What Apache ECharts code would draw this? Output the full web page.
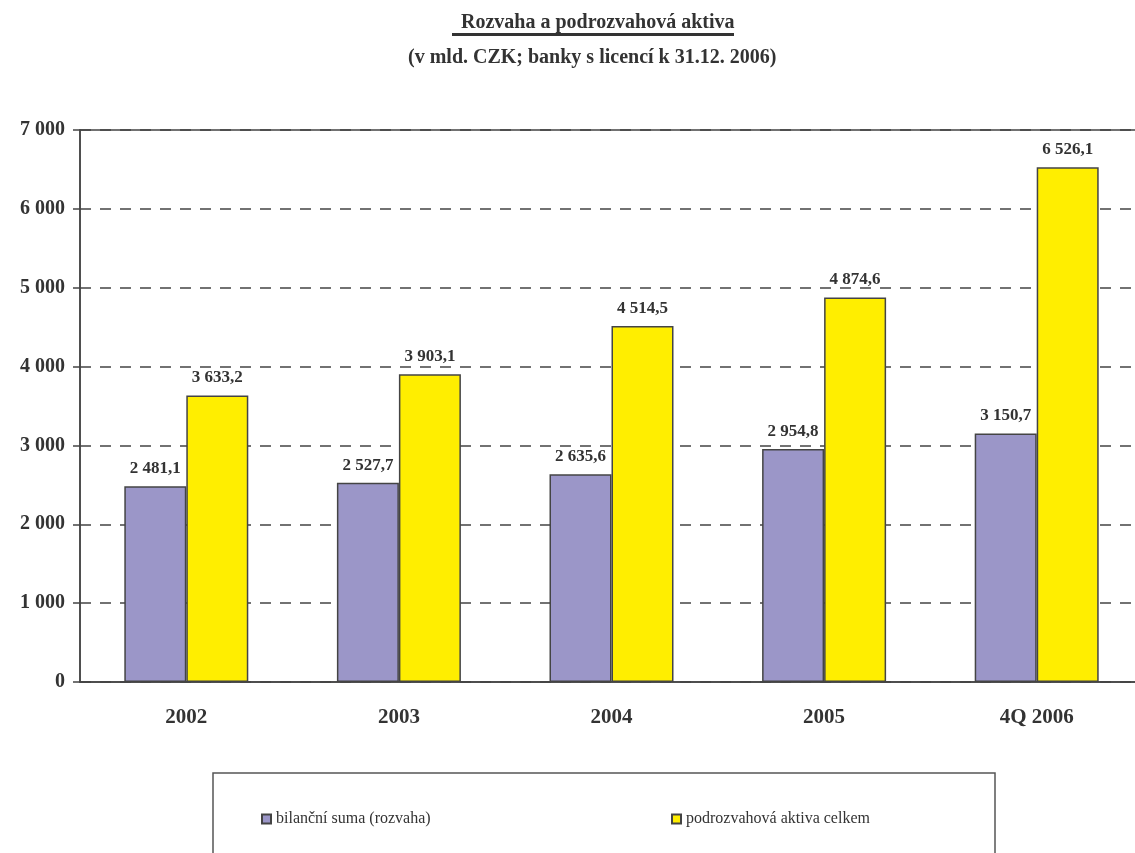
<!DOCTYPE html>
<html>
<head>
<meta charset="utf-8">
<script src="https://cdn.jsdelivr.net/npm/echarts@6/dist/echarts.min.js"></script>
<style>
  html, body { margin: 0; padding: 0; background: #fff; }
  #chart { width: 1135px; height: 853px; }
</style>
</head>
<body>
<div id="chart"></div>
<script>
// categories and values (mld. CZK)
const categories = ['2002', '2003', '2004', '2005', '4Q 2006'];
const bilancniSuma = [2481.1, 2527.7, 2635.6, 2954.8, 3150.7];
const podrozvahova = [3633.2, 3903.1, 4514.5, 4874.6, 6526.1];
const seriesNames = ['bilanční suma (rozvaha)', 'podrozvahová aktiva celkem'];

const serif = '"Liberation Serif", "DejaVu Serif", serif';

function czNum(v, dec) {
    let s = v.toFixed(dec).replace('.', ',');
    let parts = s.split(',');
    parts[0] = parts[0].replace(/\B(?=(\d{3})+(?!\d))/g, '\u00a0');
    return parts.join(',');
}

let myChart = echarts.init(document.getElementById('chart'));

let barLabel = {
    show: true,
    position: 'top',
    distance: 9,
    fontFamily: serif,
    fontWeight: 'bold',
    fontSize: 17,
    color: '#333',
    formatter: p => czNum(p.value, 1)
};

let option = {
    animation: false,
    title: [
        {
            text: 'Rozvaha a podrozvahová aktiva',
            left: 456,
            top: 8,
            textStyle: { fontFamily: serif, fontWeight: 'bold', fontSize: 20, color: '#333' }
        },
        {
            text: '(v mld. CZK; banky s licencí k 31.12. 2006)',
            left: 403,
            top: 43,
            textStyle: { fontFamily: serif, fontWeight: 'bold', fontSize: 20, color: '#333' }
        }
    ],
    graphic: [
        {
            type: 'rect',
            shape: { x: 452, y: 33, width: 282, height: 3 },
            style: { fill: '#333' }
        },
        {
            type: 'rect',
            shape: { x: 213, y: 773, width: 782, height: 100 },
            style: { fill: 'none', stroke: '#555', lineWidth: 1.5 }
        }
    ],
    legend: [
        {
            data: [seriesNames[0]],
            left: 256,
            top: 806,
            icon: 'rect',
            itemWidth: 9,
            itemHeight: 9,
            itemGap: 5,
            textStyle: { fontFamily: serif, fontSize: 16, color: '#333' }
        },
        {
            data: [seriesNames[1]],
            left: 666,
            top: 806,
            icon: 'rect',
            itemWidth: 9,
            itemHeight: 9,
            textStyle: { fontFamily: serif, fontSize: 16, color: '#333' }
        }
    ],
    grid: {
        left: 80,
        top: 130,
        width: 1063,
        height: 552,
        outerBoundsMode: 'none',
        show: true,
        borderColor: '#444',
        borderWidth: 1.5
    },
    xAxis: {
        type: 'category',
        data: categories,
        axisLine: { lineStyle: { color: '#444', width: 1.5 } },
        axisTick: { length: 7, lineStyle: { color: '#444', width: 1.5 } },
        axisLabel: {
            margin: 25,
            fontFamily: serif,
            fontWeight: 'bold',
            fontSize: 21,
            color: '#333'
        }
    },
    yAxis: {
        type: 'value',
        min: 0,
        max: 7000,
        interval: 1000,
        axisLine: { show: true, lineStyle: { color: '#444', width: 1.5 } },
        axisTick: { show: true, length: 7, lineStyle: { color: '#444', width: 1.5 } },
        axisLabel: {
            margin: 15,
            fontFamily: serif,
            fontWeight: 'bold',
            fontSize: 20,
            color: '#333',
            formatter: v => czNum(v, 0)
        },
        splitLine: {
            lineStyle: { color: '#444', width: 1.5, type: [11, 9] }
        }
    },
    series: [
        {
            name: seriesNames[0],
            type: 'bar',
            data: bilancniSuma,
            barWidth: 62,
            barGap: '0%',
            itemStyle: { color: '#9b96c8', borderColor: '#444', borderWidth: 1.5 },
            label: barLabel
        },
        {
            name: seriesNames[1],
            type: 'bar',
            data: podrozvahova,
            barWidth: 62,
            barGap: '0%',
            itemStyle: { color: '#ffee00', borderColor: '#444', borderWidth: 1.5 },
            label: barLabel
        }
    ]
};

myChart.setOption(option);
</script>
</body>
</html>
